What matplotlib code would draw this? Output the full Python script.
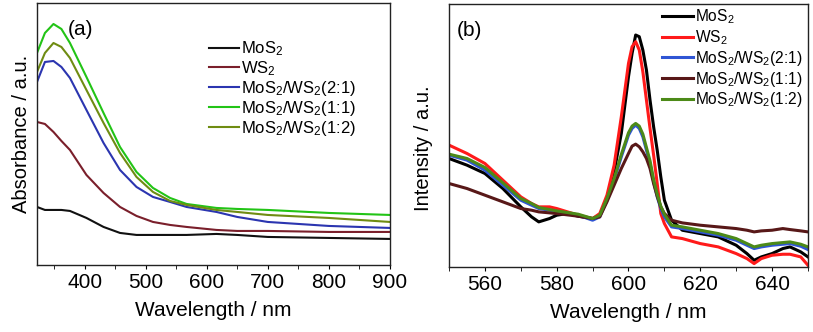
import numpy as np
import matplotlib
matplotlib.use("Agg")
import matplotlib.pyplot as plt
from matplotlib.ticker import MultipleLocator

plt.rcParams["font.family"] = ["Liberation Sans", "DejaVu Sans"]
plt.rcParams["mathtext.fontset"] = "custom"
plt.rcParams["mathtext.rm"] = "Liberation Sans"
plt.rcParams["mathtext.it"] = "Liberation Sans"

LABELS = ["MoS$_2$", "WS$_2$", "MoS$_2$/WS$_2$(2:1)",
          "MoS$_2$/WS$_2$(1:1)", "MoS$_2$/WS$_2$(1:2)"]

# ---- (a) absorbance, arbitrary units ----
abs_wl = [322, 335, 349, 362, 376, 403, 431, 458, 485, 512, 540, 567,
          616, 650, 700, 800, 900]
abs_mos2 = [58, 55, 55, 55, 54, 47, 38, 32, 30, 30, 30, 30, 31, 30, 28, 27, 26]
abs_ws2 = [143, 141, 133, 124, 115, 90, 72, 58, 49, 43, 40, 38, 35, 34, 34, 33, 33]
abs_21 = [183, 203, 204, 198, 187, 155, 122, 95, 78, 68, 63, 58, 53, 48, 43, 39, 37]
abs_11 = [212, 232, 241, 236, 222, 188, 152, 118, 93, 77, 67, 61, 57, 56, 55, 52, 50]
abs_12 = [193, 212, 222, 218, 207, 175, 142, 112, 88, 73, 64, 60, 55, 53, 50, 47, 43]

# ---- (b) PL intensity, arbitrary units ----
pl_wl = [550, 555, 560, 565, 570, 573, 575, 578, 580, 583, 586, 590, 592,
         594, 596, 598, 600, 601, 602, 603, 604, 605, 606, 607, 608, 609,
         610, 612, 615, 620, 625, 630, 633, 635, 637, 640, 643, 645, 648, 650]
pl_mos2 = [325, 305, 280, 235, 180, 150, 135, 145, 155, 160, 152, 145, 155,
           200, 285, 400, 570, 640, 695, 690, 650, 590, 500, 420, 350, 270,
           200, 140, 110, 100, 90, 65, 40, 20, 30, 40, 55, 60, 45, 30]
pl_ws2 = [365, 340, 310, 260, 210, 190, 180, 180, 175, 165, 155, 145, 160,
          215, 305, 450, 610, 660, 675, 650, 585, 500, 415, 335, 250, 160,
          130, 90, 85, 70, 60, 40, 25, 10, 25, 35, 38, 38, 30, 5]
pl_21 = [335, 320, 290, 245, 200, 185, 175, 170, 165, 160, 155, 140, 150,
         200, 260, 330, 395, 415, 425, 415, 390, 350, 310, 255, 210, 175,
         150, 120, 115, 105, 95, 80, 65, 55, 60, 65, 68, 70, 62, 52]
pl_12 = [338, 325, 298, 252, 205, 190, 178, 172, 168, 163, 158, 145, 155,
         205, 265, 337, 402, 422, 430, 422, 398, 358, 318, 262, 218, 182,
         158, 125, 120, 110, 100, 85, 70, 60, 65, 70, 73, 75, 68, 60]
pl_11 = [250, 235, 215, 195, 175, 170, 165, 162, 160, 156, 152, 145, 150,
         195, 245, 295, 340, 362, 368, 360, 345, 325, 295, 250, 212, 180,
         160, 140, 132, 125, 120, 115, 110, 105, 108, 110, 115, 112, 108, 105]

COL_A = ["#111111", "#7a1f2b", "#2b35b0", "#22c416", "#6f8c12"]
COL_B = ["#000000", "#ff1a1a", "#2f55d4", "#581818", "#4c8a18"]

fig = plt.figure(figsize=(8.13, 3.32), dpi=100)
axa = fig.add_axes([0.0455, 0.202, 0.434, 0.789])
axb = fig.add_axes([0.5523, 0.196, 0.4415, 0.792])

for ys, c, lab in zip([abs_mos2, abs_ws2, abs_21, abs_11, abs_12], COL_A, LABELS):
    axa.plot(abs_wl, ys, color=c, lw=1.5, label=lab)
axa.set_xlim(322, 900)
axa.set_ylim(0, 262)
axa.xaxis.set_major_locator(MultipleLocator(100))
axa.xaxis.set_minor_locator(MultipleLocator(50))
axa.set_xlabel("Wavelength / nm", fontsize=15, labelpad=6)
axa.set_ylabel("Absorbance / a.u.", fontsize=14.5, labelpad=4)
axa.text(0.087, 0.9, "(a)", transform=axa.transAxes, fontsize=15, va="center")
axa.legend(loc="upper left", bbox_to_anchor=(0.47, 0.885), frameon=False,
           fontsize=12, handlelength=1.8, handletextpad=0.1, labelspacing=0.05,
           borderaxespad=0)

for ys, c, lab in zip([pl_mos2, pl_ws2, pl_21, pl_11, pl_12], COL_B, LABELS):
    axb.plot(pl_wl, ys, color=c, lw=2.2, label=lab)
axb.set_xlim(550, 650)
axb.set_ylim(0, 788)
axb.xaxis.set_major_locator(MultipleLocator(20))
axb.xaxis.set_minor_locator(MultipleLocator(10))
axb.set_xlabel("Wavelength / nm", fontsize=15, labelpad=6)
axb.set_ylabel("Intensity / a.u.", fontsize=14.5, labelpad=4)
axb.yaxis.set_label_coords(-0.045, 0.45)
axb.text(0.022, 0.9, "(b)", transform=axb.transAxes, fontsize=15, va="center")
axb.legend(loc="upper left", bbox_to_anchor=(0.576, 1.01), frameon=False,
           fontsize=11.2, handlelength=2.0, handletextpad=0.1, labelspacing=0.12,
           borderaxespad=0)

for ax in (axa, axb):
    ax.set_yticks([])
    ax.tick_params(axis="x", which="both", direction="out", length=3,
                   labelsize=15, pad=3)
    for s in ax.spines.values():
        s.set_linewidth(1.0)
        s.set_color("#222222")

fig.savefig("out.png", dpi=100)
